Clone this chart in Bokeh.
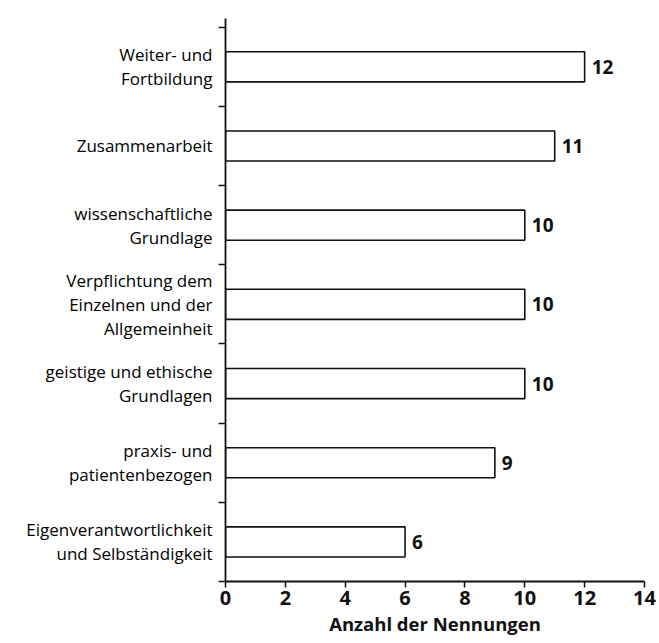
from bokeh.plotting import figure
from bokeh.models import FixedTicker, ColumnDataSource
from bokeh.core.properties import value
from bokeh.embed import file_html
from bokeh.resources import INLINE

categories = [
    "Weiter- und\nFortbildung",
    "Zusammenarbeit",
    "wissenschaftliche\nGrundlage",
    "Verpflichtung dem\nEinzelnen und der\nAllgemeinheit",
    "geistige und ethische\nGrundlagen",
    "praxis- und\npatientenbezogen",
    "Eigenverantwortlichkeit\nund Selbständigkeit",
]
values = [12, 11, 10, 10, 10, 9, 6]
x_ticks = [0, 2, 4, 6, 8, 10, 12, 14]

n = len(categories)
ypos = [n - i - 0.5 for i in range(n)]

FONT = "Open Sans"

p = figure(width=659, height=643, x_range=(0, 14), y_range=(0, 7.11),
           output_backend="svg", toolbar_location=None,
           min_border_left=225, min_border_right=15, min_border_top=18, min_border_bottom=62)
p.outline_line_color = None
p.xgrid.grid_line_color = None
p.ygrid.grid_line_color = None

src = ColumnDataSource(dict(y=ypos, v=values, lbl=[str(v) for v in values]))
p.hbar(y="y", right="v", left=0, height=0.38, source=src,
       fill_color="white", line_color="#111111", line_width=1.6)
p.text(x="v", y="y", text="lbl", source=src, x_offset=7,
       text_baseline="middle", text_align="left",
       text_font=value(FONT), text_font_size="19px", text_font_style="bold",
       text_color="#111111")

# y axis
p.yaxis.ticker = FixedTicker(ticks=ypos, minor_ticks=list(range(0, n + 1)))
p.yaxis.major_label_overrides = {y: c for y, c in zip(ypos, categories)}
p.yaxis.major_tick_out = 0
p.yaxis.major_tick_in = 0
p.yaxis.minor_tick_out = 7
p.yaxis.minor_tick_in = 0
p.yaxis.minor_tick_line_width = 1.5
p.yaxis.minor_tick_line_color = "#111111"
p.yaxis.axis_line_width = 1.8
p.yaxis.axis_line_color = "#111111"
p.yaxis.major_label_standoff = 6
p.yaxis.major_label_text_font = FONT
p.yaxis.major_label_text_font_size = "17px"
p.yaxis.major_label_text_line_height = 1.04
p.yaxis.major_label_text_color = "#000000"

# x axis
p.xaxis.ticker = FixedTicker(ticks=x_ticks, minor_ticks=[])
p.xaxis.axis_label = "Anzahl der Nennungen"
p.xaxis.axis_label_text_font = FONT
p.xaxis.axis_label_text_font_style = "bold"
p.xaxis.axis_label_text_font_size = "18.5px"
p.xaxis.axis_label_text_color = "#111111"
p.xaxis.axis_label_standoff = 3
p.xaxis.major_label_text_font = FONT
p.xaxis.major_label_text_font_size = "20px"
p.xaxis.major_label_text_font_style = "bold"
p.xaxis.major_label_text_color = "#111111"
p.xaxis.major_label_standoff = 3
p.xaxis.major_tick_out = 6
p.xaxis.major_tick_in = 0
p.xaxis.major_tick_line_width = 1.5
p.xaxis.major_tick_line_color = "#111111"
p.xaxis.axis_line_width = 1.8
p.xaxis.axis_line_color = "#111111"

open("out.html", "w").write(file_html(p, INLINE))
